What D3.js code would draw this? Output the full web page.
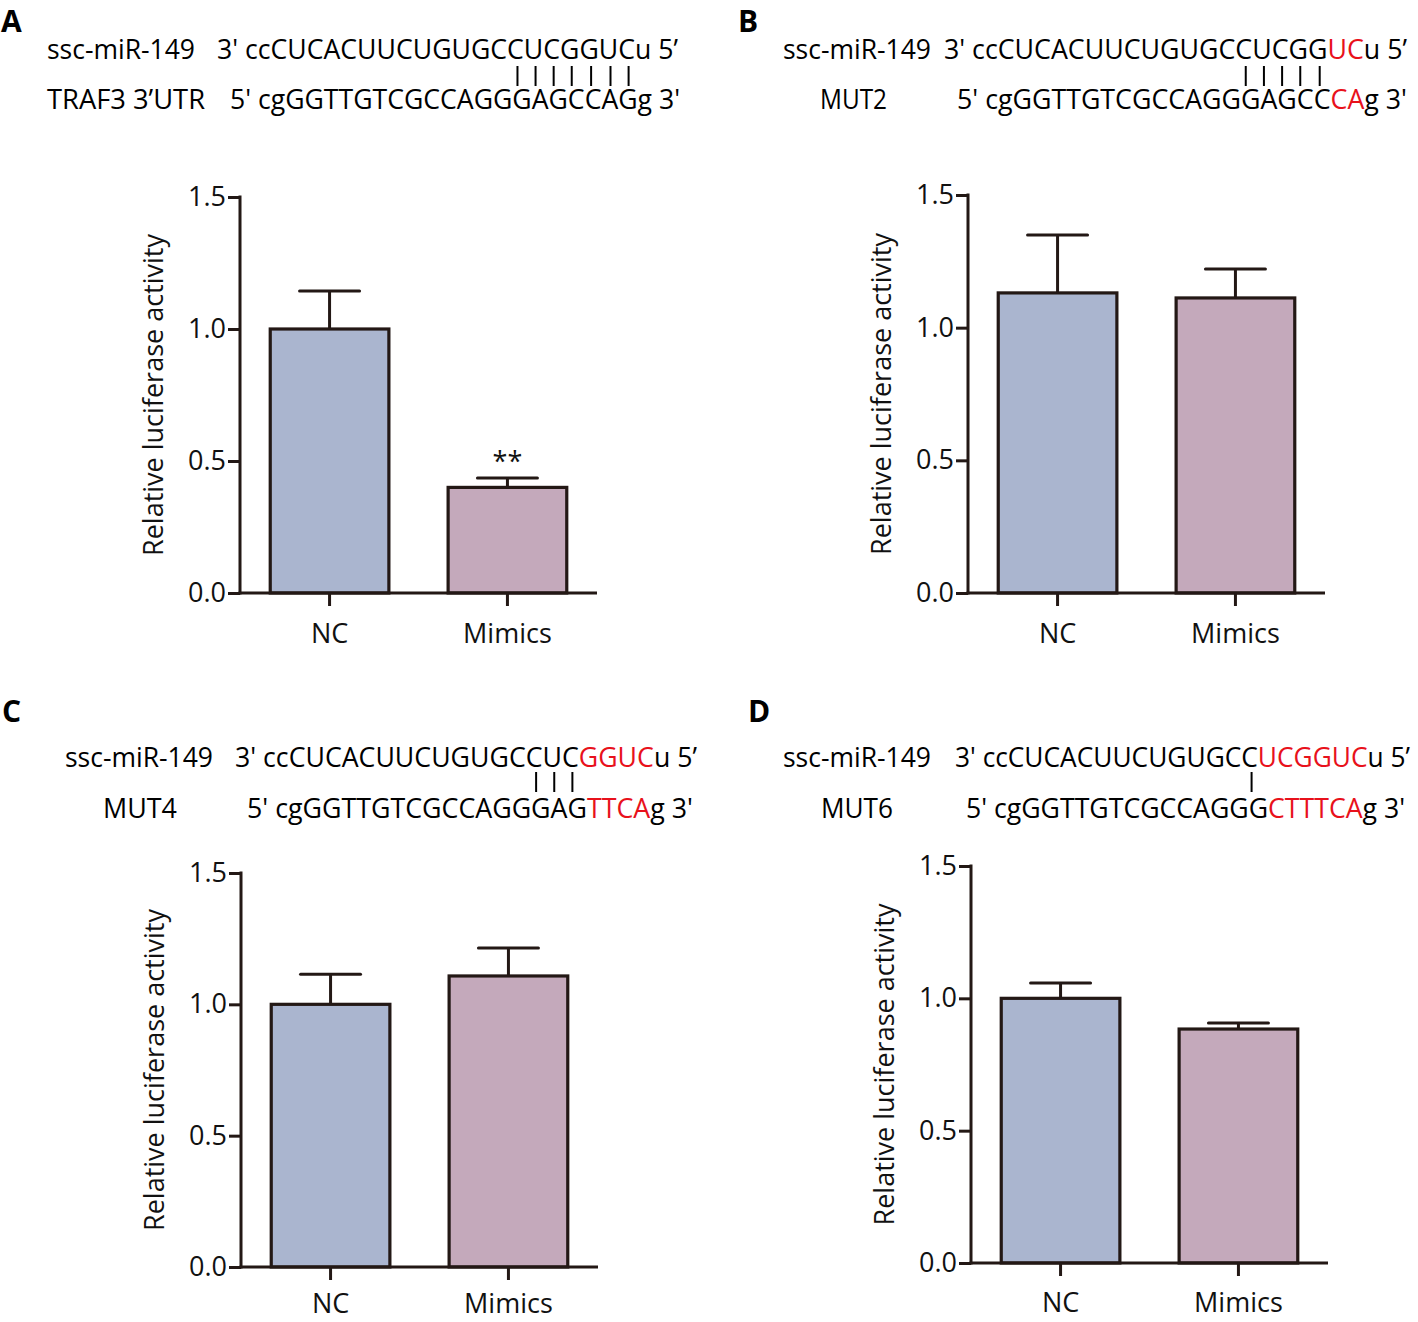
<!DOCTYPE html>
<html><head><meta charset="utf-8">
<script src="https://cdn.jsdelivr.net/npm/d3@7"></script>
<style>
html,body{margin:0;padding:0;background:#fff;}
svg{display:block;}
text{font-family:"Open Sans",sans-serif;fill:#111;}
</style></head>
<body>
<svg id="fig" width="1418" height="1322"></svg>
<script>
// ---------------- data ----------------
const categories = ["NC", "Mimics"];
const panelLetters = ["A", "B", "C", "D"];
const yTicks = [0, 0.5, 1.0, 1.5];
const yLabel = "Relative luciferase activity";

const meansA = [1.00, 0.40];
const errA   = [0.144, 0.036];
const meansB = [1.131, 1.112];
const errB   = [0.218, 0.109];
const meansC = [1.00, 1.108];
const errC   = [0.115, 0.106];
const meansD = [1.00, 0.884];
const errD   = [0.058, 0.023];
const sigA   = ["", "**"];

const mirLabel = "ssc-miR-149";
const targetLabels = ["TRAF3 3’UTR", "MUT2", "MUT4", "MUT6"];
const mirSeq = "3' ccCUCACUUCUGUGCCUCGGUCu 5’";
// red (mutated) ranges in miRNA string [start, end)
const mirRedA = [], mirRedB = [23, 25], mirRedC = [21, 25], mirRedD = [19, 25];
// paired positions (indices in miRNA string)
const pairsA = [18, 19, 20, 21, 22, 23, 24];
const pairsB = [18, 19, 20, 21, 22];
const pairsC = [18, 19, 20];
const pairsD = [18];
// target sequence segments: [text, isMutated]
const targetA = [["5' cgGGTTGTCGCCAGGGAGCCAGg 3'", false]];
const targetB = [["5' cgGGTTGTCGCCAGGGAGCC", false], ["CA", true], ["g 3'", false]];
const targetC = [["5' cgGGTTGTCGCCAGGGAG", false], ["TTCA", true], ["g 3'", false]];
const targetD = [["5' cgGGTTGTCGCCAGGG", false], ["CTTTCA", true], ["g 3'", false]];

// ---------------- layout ----------------
const INK = "#231815";
const RED = "#e8111b";
const fills = ["#aab5cf", "#c4a9bb"];

const panels = [
  {letter: panelLetters[0], lx: 1, ly: 32, means: meansA, errs: errA, sig: sigA,
   axisX: 240, y0: 593, yTop: 197, pad: 18,
   hdr: {l1x: 47, l1w: 148, s1x: 217, s1e: 678, b1: 59, l2x: 47, l2w: 158, s2x: 230, s2e: 680, b2: 109, by0: 66, by1: 86},
   tLabel: targetLabels[0], red: mirRedA, pairs: pairsA, target: targetA},
  {letter: panelLetters[1], lx: 738, ly: 32, means: meansB, errs: errB, sig: null,
   axisX: 968, y0: 593, yTop: 195, pad: 18,
   hdr: {l1x: 783, l1w: 148, s1x: 944, s1e: 1407, b1: 59, l2x: 820, l2w: 67, s2x: 957, s2e: 1407, b2: 109, by0: 66, by1: 86},
   tLabel: targetLabels[1], red: mirRedB, pairs: pairsB, target: targetB},
  {letter: panelLetters[2], lx: 2, ly: 722, means: meansC, errs: errC, sig: null,
   axisX: 241, y0: 1267, yTop: 873, pad: 14,
   hdr: {l1x: 65, l1w: 148, s1x: 235, s1e: 697, b1: 767, l2x: 103, l2w: 74, s2x: 247, s2e: 693, b2: 818, by0: 772, by1: 792},
   tLabel: targetLabels[2], red: mirRedC, pairs: pairsC, target: targetC},
  {letter: panelLetters[3], lx: 748, ly: 722, means: meansD, errs: errD, sig: null,
   axisX: 971, y0: 1263, yTop: 866, pad: 17,
   hdr: {l1x: 783, l1w: 148, s1x: 955, s1e: 1410, b1: 767, l2x: 821, l2w: 72, s2x: 966, s2e: 1405, b2: 818, by0: 772, by1: 792},
   tLabel: targetLabels[3], red: mirRedD, pairs: pairsD, target: targetD}
];

const svg = d3.select("#fig");
const HDR_FS = 27;
const AX_FS = 27;

panels.forEach(p => {
  const g = svg.append("g");

  // panel letter
  g.append("text").attr("x", p.lx).attr("y", p.ly)
    .attr("font-size", 30).attr("font-weight", 700).style("fill", "#000")
    .text(p.letter);

  // ----- header: miRNA line -----
  const h = p.hdr;
  g.append("text").attr("x", h.l1x).attr("y", h.b1).attr("font-size", HDR_FS)
    .attr("textLength", h.l1w).attr("lengthAdjust", "spacingAndGlyphs")
    .style("fill", "#000").text(mirLabel);

  const segs = [];
  if (p.red.length) {
    segs.push([mirSeq.slice(0, p.red[0]), false]);
    segs.push([mirSeq.slice(p.red[0], p.red[1]), true]);
    segs.push([mirSeq.slice(p.red[1]), false]);
  } else segs.push([mirSeq, false]);
  const t1 = g.append("text").attr("x", h.s1x).attr("y", h.b1).attr("font-size", HDR_FS)
    .attr("textLength", h.s1e - h.s1x).attr("lengthAdjust", "spacingAndGlyphs")
    .style("white-space", "pre");
  segs.forEach(s => t1.append("tspan").style("fill", s[1] ? RED : "#000").text(s[0]));

  // target line
  g.append("text").attr("x", h.l2x).attr("y", h.b2).attr("font-size", HDR_FS)
    .attr("textLength", h.l2w).attr("lengthAdjust", "spacingAndGlyphs")
    .style("fill", "#000").text(p.tLabel);
  const t2 = g.append("text").attr("x", h.s2x).attr("y", h.b2).attr("font-size", HDR_FS)
    .attr("textLength", h.s2e - h.s2x).attr("lengthAdjust", "spacingAndGlyphs")
    .style("white-space", "pre");
  p.target.forEach(s => t2.append("tspan").style("fill", s[1] ? RED : "#000").text(s[0]));

  // pairing bars aligned to miRNA characters
  const node = t1.node();
  p.pairs.forEach(i => {
    let cx;
    try {
      const a = node.getStartPositionOfChar(i), b = node.getEndPositionOfChar(i);
      cx = (a.x + b.x) / 2 + 2;
    } catch (e) { cx = h.s1x + (h.s1e - h.s1x) * (i + 0.5) / mirSeq.length; }
    g.append("line").attr("x1", cx).attr("x2", cx).attr("y1", h.by0).attr("y2", h.by1)
      .attr("stroke", "#000").attr("stroke-width", 2);
  });

  // ----- bar chart -----
  const width = 357;
  const x = d3.scaleBand().domain(categories).range([p.axisX, p.axisX + width])
    .paddingInner(0.333).paddingOuter(0.17);
  const y = d3.scaleLinear().domain([0, 1.5]).range([p.y0, p.yTop]);

  const data = categories.map((c, i) => ({c, m: p.means[i], e: p.errs[i], i}));

  const capHalf = 30;
  data.forEach(d => {
    const cx = x(d.c) + x.bandwidth() / 2;
    g.append("line").attr("x1", cx).attr("x2", cx).attr("y1", y(d.m)).attr("y2", y(d.m + d.e))
      .attr("stroke", INK).attr("stroke-width", 3);
    g.append("line").attr("x1", cx - capHalf).attr("x2", cx + capHalf)
      .attr("y1", y(d.m + d.e)).attr("y2", y(d.m + d.e))
      .attr("stroke", INK).attr("stroke-width", 3).attr("stroke-linecap", "round");
  });

  g.selectAll("rect.bar").data(data).enter().append("rect")
    .attr("x", d => x(d.c)).attr("width", x.bandwidth())
    .attr("y", d => y(d.m)).attr("height", d => y(0) - y(d.m))
    .attr("fill", d => fills[d.i]).attr("stroke", INK).attr("stroke-width", 3.2);

  if (p.sig) {
    data.forEach(d => {
      if (!p.sig[d.i]) return;
      g.append("text").attr("x", x(d.c) + x.bandwidth() / 2).attr("y", y(d.m + d.e) - 7)
        .attr("text-anchor", "middle").attr("font-size", 27).text(p.sig[d.i]);
    });
  }

  // y axis
  const yAxis = d3.axisLeft(y).tickValues(yTicks).tickFormat(d3.format(".1f"))
    .tickSize(12).tickPadding(2);
  const ya = g.append("g").attr("transform", `translate(${p.axisX},0)`).call(yAxis);
  ya.select(".domain").remove();
  ya.append("line").attr("x1", 0).attr("x2", 0).attr("y1", y(0) + 1.5).attr("y2", y(1.5) - 1.5)
    .attr("stroke", INK).attr("stroke-width", 3);
  ya.selectAll(".tick line").attr("stroke", INK).attr("stroke-width", 3);
  ya.selectAll(".tick text").attr("font-size", AX_FS).style("font-family", "'Open Sans',sans-serif")
    .style("fill", "#111");

  // x axis
  const xAxis = d3.axisBottom(x).tickSize(13).tickPadding(p.pad);
  const xa = g.append("g").attr("transform", `translate(0,${p.y0})`).call(xAxis);
  xa.select(".domain").remove();
  xa.append("line").attr("x1", p.axisX - 1.5).attr("x2", p.axisX + width).attr("y1", 0).attr("y2", 0)
    .attr("stroke", INK).attr("stroke-width", 3);
  xa.selectAll(".tick line").attr("stroke", INK).attr("stroke-width", 3);
  xa.selectAll(".tick text").attr("font-size", AX_FS).style("font-family", "'Open Sans',sans-serif")
    .style("fill", "#111");

  // y label
  g.append("text")
    .attr("transform", `translate(${p.axisX - 77},${(p.y0 + p.yTop) / 2}) rotate(-90)`)
    .attr("text-anchor", "middle").attr("font-size", 27)
    .attr("textLength", 322).attr("lengthAdjust", "spacingAndGlyphs")
    .text(yLabel);
});
</script>
</body></html>
